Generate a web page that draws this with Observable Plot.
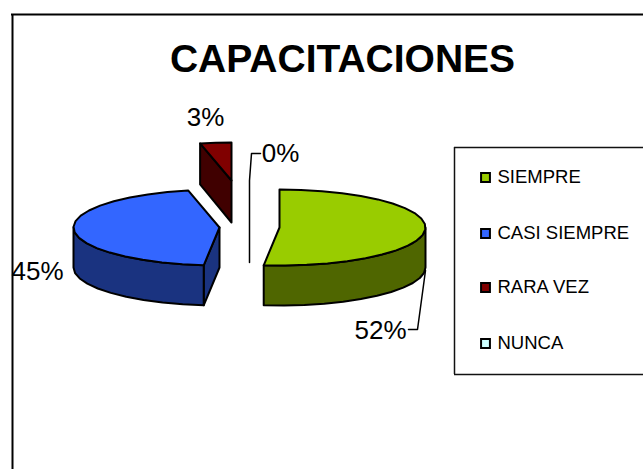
<!DOCTYPE html>
<html><head><meta charset="utf-8">
<style>html,body{margin:0;padding:0;background:#fff}svg{display:block}</style>
<script src="https://cdn.jsdelivr.net/npm/d3@7"></script>
<script src="https://cdn.jsdelivr.net/npm/@observablehq/plot@0.6"></script>
</head><body><script>
const title = "CAPACITACIONES";
const categories = ["SIEMPRE","CASI SIEMPRE","RARA VEZ","NUNCA"];
const shares = [15,13,1,0];
const labels = ["52%","45%","3%","0%"];
const topColors = ["#99CC00","#3366FF","#800000","#CCFFFF"];
const sideColors = ["#4F6600","#1A3380","#400000","#668080"];

// pie layout (ellipse radii, thickness, centre of each exploded slice), in page units
const rx = 146, ry = 38, depth = 40;
const centers = [[279,227],[219,227],[231,180],[249,262]];
const total = d3.sum(shares);
let acc = 0;
const angles = shares.map(v => { const a0 = acc; acc += v / total * 2 * Math.PI; return [a0, acc]; });

const ptOn = (i, a, dz = 0) => [centers[i][0] + rx * Math.sin(a), centers[i][1] - ry * Math.cos(a) + dz];
const arc = (i, a0, a1, dz = 0) => {
  const n = Math.max(2, Math.ceil(Math.abs(a1 - a0) / 0.15));
  return d3.range(n + 1).map(k => ptOn(i, a0 + (a1 - a0) * k / n, dz));
};
const polys = [];
const add = (id, fill, pts) => pts.forEach(([x, y]) => polys.push({id, fill, x, y}));
const R = Math.PI;

// red slice: cut face, then top
{
  const [a0, a1] = angles[2], c = centers[2];
  add("r-cut", sideColors[2], [ptOn(2, a0), c, [c[0], c[1] + depth + 2], ptOn(2, a0, depth + 1)]);
  add("r-top", topColors[2], [c, ...arc(2, a0, a1)]);
}
// blue slice: cut face, rim, top
{
  const [a0, a1] = angles[1], c = centers[1];
  add("b-cut", sideColors[1], [c, ptOn(1, a0), ptOn(1, a0, depth), [c[0], c[1] + depth]]);
  const rim = arc(1, a0, 1.5 * R);
  add("b-rim", sideColors[1], [...rim, ...arc(1, 1.5 * R, a0, depth)]);
  add("b-top", topColors[1], [c, ...arc(1, a0, a1)]);
}
// green slice: rim, top
{
  const [a0, a1] = angles[0], c = centers[0];
  add("g-rim", sideColors[0], [...arc(0, R / 2, a1), ...arc(0, a1, R / 2, depth)]);
  add("g-top", topColors[0], [c, ...arc(0, a0, a1)]);
}

const leaderPts = [
  {id:"nunca",x:249,y:262},{id:"nunca",x:249,y:180},{id:"nunca",x:251,y:153},{id:"nunca",x:260,y:153},
  {id:"siempre",x:425,y:270},{id:"siempre",x:417,y:329},{id:"siempre",x:408,y:329}
];
const labelPos = [[380,330],[37,271],[205,117],[280,153]];
const labelRows = labels.map((text,i)=>({text,x:labelPos[i][0],y:labelPos[i][1]}));
const legendY = [177,233,287,343];
const legendRows = categories.map((c,i)=>({c,y:legendY[i],fill:topColors[i]}));

const chart = Plot.plot({
  width: 643, height: 469, margin: 0,
  x: {domain:[0,643], range:[0,643], axis:null},
  y: {domain:[0,469], range:[0,469], axis:null},
  style: {background:"#fff", fontFamily:"'Liberation Sans',Arial,sans-serif"},
  marks: [
    Plot.ruleY([14],{x1:11,x2:643,stroke:"#000",strokeWidth:2}),
    Plot.ruleX([12],{y1:14,y2:469,stroke:"#000",strokeWidth:2}),
    Plot.ruleY([147,374],{x1:454,x2:643,stroke:"#111",strokeWidth:1.5}),
    Plot.ruleX([454],{y1:147,y2:374,stroke:"#111",strokeWidth:1.5}),
    Plot.line(polys,{x:"x",y:"y",z:"id",fill:"fill",stroke:"#000",strokeWidth:2,strokeLinejoin:"round",curve:"linear-closed"}),
    Plot.line(leaderPts,{x:"x",y:"y",z:"id",stroke:"#000",strokeWidth:1.5,curve:"linear"}),
    Plot.text(labelRows,{x:"x",y:"y",text:"text",fontSize:26,fill:"#000"}),
    Plot.dot(legendRows,{x:()=>485,y:"y",symbol:"square",r:5,fill:"fill",stroke:"#000",strokeWidth:2}),
    Plot.text(legendRows,{x:()=>497,y:"y",text:"c",textAnchor:"start",fontSize:18.5,fill:"#000"}),
    Plot.text([title],{x:()=>342,y:()=>59,text:d=>d,fontSize:39,fontWeight:"bold",fill:"#000"})
  ]
});
document.body.appendChild(chart);
</script></body></html>
